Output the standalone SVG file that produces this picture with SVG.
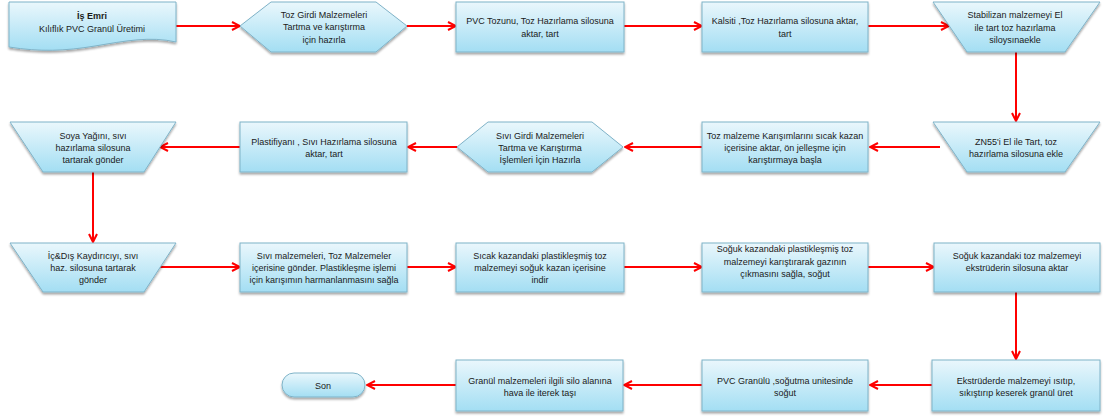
<svg xmlns="http://www.w3.org/2000/svg" width="1107" height="419" viewBox="0 0 1107 419">
<style>
.s{fill:url(#g);stroke:#7FB3C8;stroke-width:1;filter:url(#sh)}
.t{font-family:"Liberation Sans",Arial,sans-serif;font-size:9px;fill:#1a1a1a;text-anchor:middle}
.b{font-weight:bold}
.c{fill:none;stroke:#FF0000;stroke-width:2;marker-end:url(#ah)}
</style>
<defs>
<linearGradient id="g" x1="0" y1="0" x2="0" y2="1">
<stop offset="0" stop-color="#EAF7FC"/>
<stop offset="1" stop-color="#A3DEF3"/>
</linearGradient>
<filter id="sh" x="-10%" y="-10%" width="120%" height="140%">
<feDropShadow dx="0" dy="2" stdDeviation="1.2" flood-color="#000" flood-opacity="0.35"/>
</filter>
<marker id="ah" viewBox="0 0 10 10" refX="9" refY="5" markerWidth="10" markerHeight="10" markerUnits="userSpaceOnUse" orient="auto">
<path d="M1,1 L9,5 L1,9" fill="none" stroke="#FF0000" stroke-width="2"/>
</marker>
</defs>
<rect width="1107" height="419" fill="#fff"/>

<g id="connectors">
<path class="c" d="M176,26 H240"/>
<path class="c" d="M407,26 H456"/>
<path class="c" d="M624,26 H702"/>
<path class="c" d="M868,26 H949"/>
<path class="c" d="M1016,52 V121"/>
<path class="c" d="M940,147 H870"/>
<path class="c" d="M702,147 H625"/>
<path class="c" d="M457,147 H408"/>
<path class="c" d="M240,147 H160"/>
<path class="c" d="M93,172 V242"/>
<path class="c" d="M160,267 H240"/>
<path class="c" d="M407,267 H456"/>
<path class="c" d="M624,267 H702"/>
<path class="c" d="M868,267 H934"/>
<path class="c" d="M1016,292 V359"/>
<path class="c" d="M932,385 H870"/>
<path class="c" d="M702,385 H624"/>
<path class="c" d="M456,385 H367"/>
</g>

<g id="n1">
<path class="s" d="M9,2 H176 V42 C150,36 125,41 95,46 C65,51 40,52 9,47 Z"/>
<text class="t b" x="92" y="18.5">İş Emri</text>
<text class="t" x="92" y="31.5">Kılıflık PVC Granül Üretimi</text>
</g>
<g id="n2">
<path class="s" d="M240,26 L271,2 H376 L407,26 L376,52 H271 Z"/>
<text class="t" x="324" y="17.5">Toz Girdi Malzemeleri</text>
<text class="t" x="324" y="30">Tartma ve karıştırma</text>
<text class="t" x="324" y="42.5">için hazırla</text>
</g>
<g id="n3">
<rect class="s" x="456" y="2" width="168" height="50"/>
<text class="t" x="540" y="24">PVC Tozunu, Toz Hazırlama silosuna</text>
<text class="t" x="540" y="36.5">aktar, tart</text>
</g>
<g id="n4">
<rect class="s" x="702" y="2" width="166" height="50"/>
<text class="t" x="785" y="24">Kalsiti ,Toz Hazırlama silosuna aktar,</text>
<text class="t" x="785" y="36.5">tart</text>
</g>
<g id="n5">
<path class="s" d="M933,2 H1100 L1065,52 H967 Z"/>
<text class="t" x="1015" y="18">Stabilizan malzemeyi  El</text>
<text class="t" x="1015" y="30.5">ile tart toz hazırlama</text>
<text class="t" x="1015" y="43">siloysınaekle</text>
</g>

<g id="n6">
<path class="s" d="M933,122 H1100 L1065,172 H967 Z"/>
<text class="t" x="1016" y="145">ZN55'i El ile Tart, toz</text>
<text class="t" x="1016" y="157">hazırlama silosuna ekle</text>
</g>
<g id="n7">
<rect class="s" x="702" y="122" width="166" height="50"/>
<text class="t" x="785" y="138.5">Toz malzeme Karışımlarını sıcak kazan</text>
<text class="t" x="785" y="150.5">içerisine aktar, ön jelleşme için</text>
<text class="t" x="785" y="163">karıştırmaya başla</text>
</g>
<g id="n8">
<path class="s" d="M457,147 L488,122 H592 L623,147 L592,172 H488 Z"/>
<text class="t" x="540" y="138.5">Sıvı Girdi Malzemeleri</text>
<text class="t" x="540" y="150.5">Tartma ve Karıştırma</text>
<text class="t" x="540" y="163">İşlemleri  İçin Hazırla</text>
</g>
<g id="n9">
<rect class="s" x="240" y="122" width="167" height="50"/>
<text class="t" x="324" y="145">Plastifiyanı ,  Sıvı Hazırlama silosuna</text>
<text class="t" x="324" y="157">aktar, tart</text>
</g>
<g id="n10">
<path class="s" d="M10,122 H176 L144,172 H43 Z"/>
<text class="t" x="93" y="138.5">Soya Yağını, sıvı</text>
<text class="t" x="93" y="150.5">hazırlama silosuna</text>
<text class="t" x="93" y="163">tartarak gönder</text>
</g>

<g id="n11">
<path class="s" d="M10,243 H176 L144,292 H43 Z"/>
<text class="t" x="93" y="258.5">İç&amp;Dış Kaydırıcıyı, sıvı</text>
<text class="t" x="93" y="270.5">haz. silosuna tartarak</text>
<text class="t" x="93" y="283">gönder</text>
</g>
<g id="n12">
<rect class="s" x="240" y="243" width="167" height="49"/>
<text class="t" x="324" y="258.5">Sıvı malzemeleri, Toz Malzemeler</text>
<text class="t" x="324" y="270.5">içerisine gönder. Plastikleşme işlemi</text>
<text class="t" x="324" y="283">için karışımın harmanlanmasını sağla</text>
</g>
<g id="n13">
<rect class="s" x="456" y="243" width="168" height="49"/>
<text class="t" x="540" y="258.5">Sıcak kazandaki  plastikleşmiş  toz</text>
<text class="t" x="540" y="270.5">malzemeyi  soğuk kazan içerisine</text>
<text class="t" x="540" y="283">indir</text>
</g>
<g id="n14">
<rect class="s" x="702" y="243" width="166" height="49"/>
<text class="t" x="785" y="251.5">Soğuk kazandaki plastikleşmiş toz</text>
<text class="t" x="785" y="265">malzemeyi  karıştırarak gazının</text>
<text class="t" x="785" y="276.5">çıkmasını sağla, soğut</text>
</g>
<g id="n15">
<rect class="s" x="934" y="243" width="166" height="49"/>
<text class="t" x="1017" y="258.5">Soğuk kazandaki toz malzemeyi</text>
<text class="t" x="1017" y="270.5">ekstrüderin silosuna aktar</text>
</g>

<g id="n16">
<rect class="s" x="932" y="360" width="168" height="51"/>
<text class="t" x="1016" y="383.5">Ekstrüderde malzemeyi  ısıtıp,</text>
<text class="t" x="1016" y="396">sıkıştırıp keserek granül üret</text>
</g>
<g id="n17">
<rect class="s" x="702" y="360" width="166" height="51"/>
<text class="t" x="785" y="383.5">PVC Granülü ,soğutma unitesinde</text>
<text class="t" x="785" y="396">soğut</text>
</g>
<g id="n18">
<rect class="s" x="456" y="360" width="167" height="51"/>
<text class="t" x="540" y="383.5">Granül malzemeleri  ilgili silo alanına</text>
<text class="t" x="540" y="396">hava ile iterek taşı</text>
</g>
<g id="n19">
<rect class="s" x="282" y="373" width="83" height="24" rx="12" ry="12"/>
<text class="t" x="323" y="388.5">Son</text>
</g>
</svg>
